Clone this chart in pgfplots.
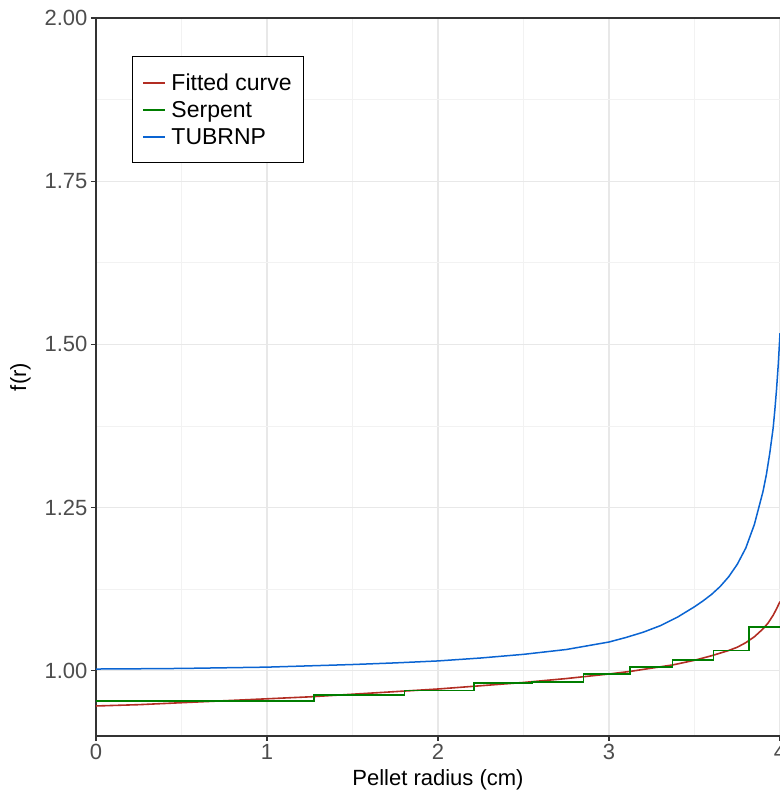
\documentclass[border=0pt]{standalone}
\usepackage{pgfplots}
\pgfplotsset{compat=1.18}
\usepackage{fontspec}
\setmainfont{Liberation Sans}
\definecolor{cred}{RGB}{178,45,35}
\definecolor{cgreen}{RGB}{0,125,0}
\definecolor{cblue}{RGB}{10,100,210}
\definecolor{tickgray}{RGB}{77,77,77}
\definecolor{axgray}{RGB}{51,51,51}
\begin{document}
\begin{tikzpicture}
\begin{axis}[
  name=ax,
  scale only axis,
  width=684pt, height=718pt,
  xmin=0, xmax=4, ymin=0.9, ymax=2,
  axis x line=box, axis y line=left,
  axis line style={-, draw=axgray, line width=1.2pt},
  xtick={0,1,2,3,4}, ytick={1,1.25,1.5,1.75,2},
  minor xtick={0.5,1.5,2.5,3.5},
  minor ytick={1.125,1.375,1.625,1.875},
  grid=both,
  major grid style={color=black!9, line width=1.2pt},
  minor grid style={color=black!5, line width=0.8pt},
  tick align=outside,
  xtick pos=bottom, ytick pos=left,
  major tick length=5pt, minor tick length=0pt,
  tick style={draw=axgray, line width=1.1pt},
  /pgf/number format/assume math mode=true,
  yticklabel style={/pgf/number format/.cd, fixed, fixed zerofill, precision=2},
  ticklabel style={font=\fontsize{22}{22}\selectfont, text=tickgray},
  xlabel={Pellet radius (cm)},
  ylabel={f(r)},
  xlabel style={yshift=-3pt},
  ylabel style={yshift=7pt},
  label style={font=\fontsize{22}{22}\selectfont},
  legend style={at={(0.0526,0.947)}, anchor=north west,
    font=\fontsize{23}{23}\selectfont, inner xsep=10pt, inner ysep=15pt, row sep=5.5pt},
  every axis legend/.append style={draw=black, line width=1pt},
  legend cell align=left,
  legend image code/.code={\draw[#1] (0pt,0pt) -- (22pt,0pt); \path (25pt,0pt);},
]
\addlegendimage{draw=cred, line width=2pt}
\addlegendentry{Fitted curve}
\addlegendimage{draw=cgreen, line width=1.8pt}
\addlegendentry{Serpent}
\addlegendimage{draw=cblue, line width=1.8pt}
\addlegendentry{TUBRNP}
\addplot[cred, line width=1.6pt, forget plot] coordinates {
(0,0.946) (0.25,0.948) (0.5,0.951) (0.75,0.954) (1.0,0.957) (1.25,0.960) (1.5,0.964)
(1.75,0.968) (2.0,0.972) (2.25,0.977) (2.5,0.982) (2.75,0.988) (3.0,0.995) (3.125,0.999)
(3.25,1.004) (3.375,1.009) (3.5,1.016) (3.6,1.023) (3.7,1.031) (3.75,1.036) (3.8,1.043)
(3.85,1.052) (3.9,1.064) (3.93,1.073) (3.96,1.085) (3.98,1.095) (4.0,1.106) };
\addplot[cgreen, line width=1.5pt, const plot, forget plot] coordinates {
(0,0.954) (1.275,0.963) (1.805,0.970) (2.21,0.981) (2.55,0.983) (2.85,0.995)
(3.123,1.006) (3.372,1.0165) (3.61,1.031) (3.82,1.067) (4.05,1.067) };
\addplot[cblue, line width=1.5pt, forget plot] coordinates {
(0,1.0026) (0.25,1.003) (0.5,1.0035) (0.75,1.0045) (1.0,1.0055) (1.25,1.0075) (1.5,1.0095)
(1.75,1.012) (2.0,1.015) (2.25,1.0195) (2.5,1.0251) (2.75,1.0325) (3.0,1.044) (3.1,1.051)
(3.2,1.059) (3.3,1.069) (3.4,1.082) (3.5,1.098) (3.55,1.107) (3.6,1.117) (3.65,1.129)
(3.7,1.144) (3.75,1.163) (3.8,1.188) (3.85,1.224) (3.88,1.254) (3.9,1.274) (3.92,1.300)
(3.94,1.333) (3.96,1.372) (3.97,1.40) (3.98,1.432) (3.99,1.47) (4.0,1.517) };
\end{axis}
\pgfresetboundingbox
\path ([xshift=-96pt,yshift=-58pt]ax.south west) rectangle ([yshift=18pt]ax.north east);
\end{tikzpicture}
\end{document}
